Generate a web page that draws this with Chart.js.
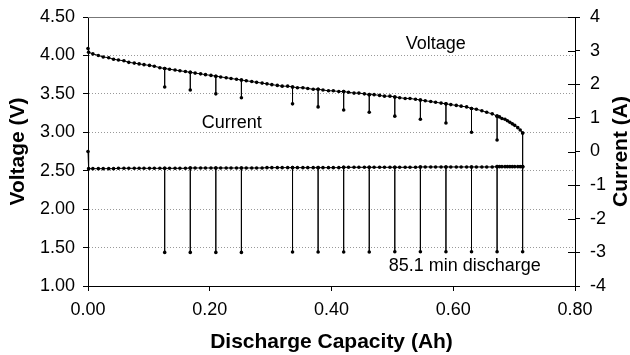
<!DOCTYPE html>
<html>
<head>
<meta charset="utf-8">
<script src="https://cdn.jsdelivr.net/npm/chart.js@4/dist/chart.umd.min.js"></script>
<style>
    html, body { margin: 0; padding: 0; background: #fff; }
    #wrap { width: 630px; height: 355px; }
</style>
</head>
<body>
<div id="wrap"><canvas id="myChart" width="630" height="355"></canvas></div>
<script>
const FONT = '"Liberation Sans", Arial, sans-serif';

// discharge capacity (Ah) of every logged point
const capacity = [
    0.000, 0.001, 0.008, 0.017, 0.025, 0.034, 0.042, 0.050, 0.059, 0.067, 0.076, 0.084, 0.092, 0.101, 0.109, 0.118,
    0.126, 0.134, 0.143, 0.151, 0.160,
    0.168, 0.176, 0.185, 0.193, 0.202,
    0.210, 0.218, 0.227, 0.235, 0.244,
    0.252, 0.260, 0.269, 0.277, 0.286,
    0.294, 0.302, 0.311, 0.319, 0.328,
    0.336, 0.344, 0.353, 0.361, 0.370,
    0.378, 0.386, 0.395, 0.403, 0.412,
    0.420, 0.428, 0.437, 0.445, 0.454,
    0.462, 0.470, 0.479, 0.487, 0.496,
    0.504, 0.512, 0.521, 0.529, 0.538,
    0.546, 0.554, 0.563, 0.571, 0.580,
    0.588, 0.596, 0.605, 0.613, 0.622,
    0.630, 0.638, 0.647, 0.655, 0.664,
    0.672, 0.676, 0.680, 0.685, 0.689, 0.693, 0.697, 0.701, 0.706, 0.710, 0.714
];

// cell voltage (V)
const voltage = [
    4.09, 4.04, 4.02, 4.00, 3.98, 3.97, 3.95, 3.94, 3.93, 3.91, 3.90, 3.89, 3.88, 3.87, 3.86, 3.84,
    3.83, 3.82, 3.81, 3.80, 3.79,
    3.78, 3.77, 3.76, 3.75, 3.74,
    3.73, 3.72, 3.71, 3.70, 3.69,
    3.68, 3.67, 3.66, 3.65, 3.64,
    3.63, 3.62, 3.61, 3.60, 3.60,
    3.59, 3.58, 3.58, 3.57, 3.56,
    3.56, 3.55, 3.54, 3.54, 3.53,
    3.53, 3.52, 3.51, 3.51, 3.50,
    3.49, 3.49, 3.48, 3.47, 3.47,
    3.46, 3.45, 3.44, 3.44, 3.43,
    3.42, 3.41, 3.40, 3.39, 3.38,
    3.37, 3.36, 3.35, 3.34, 3.33,
    3.31, 3.30, 3.28, 3.26, 3.24,
    3.21, 3.20, 3.18, 3.17, 3.15, 3.13, 3.11, 3.09, 3.06, 3.03, 2.99
];

// base discharge current (A)
const current = [
    0.00, -0.51, -0.51, -0.51, -0.51, -0.51, -0.51, -0.50, -0.50, -0.50, -0.50, -0.50, -0.50, -0.50, -0.50, -0.50,
    -0.50, -0.50, -0.50, -0.50, -0.50,
    -0.49, -0.49, -0.49, -0.49, -0.49,
    -0.49, -0.49, -0.49, -0.49, -0.49,
    -0.49, -0.49, -0.49, -0.49, -0.49,
    -0.48, -0.48, -0.48, -0.48, -0.48,
    -0.48, -0.48, -0.48, -0.48, -0.48,
    -0.48, -0.48, -0.48, -0.48, -0.48,
    -0.47, -0.47, -0.47, -0.47, -0.47,
    -0.47, -0.47, -0.47, -0.47, -0.47,
    -0.47, -0.47, -0.47, -0.47, -0.47,
    -0.46, -0.46, -0.46, -0.46, -0.46,
    -0.46, -0.46, -0.46, -0.46, -0.46,
    -0.46, -0.46, -0.46, -0.46, -0.46,
    -0.45, -0.45, -0.45, -0.45, -0.45, -0.45, -0.45, -0.45, -0.45, -0.45, -0.45
];

// 3 A pulses
const pulseCapacity = [0.126, 0.168, 0.210, 0.252, 0.336, 0.378, 0.420, 0.462, 0.504, 0.546, 0.588, 0.630, 0.672, 0.714];
const pulseVoltage = [3.59, 3.55, 3.50, 3.45, 3.37, 3.33, 3.29, 3.26, 3.21, 3.17, 3.12, 3.00, 2.90, 2.55];
const pulseCurrent = [-3.00, -3.00, -3.00, -3.00, -2.99, -2.99, -2.99, -2.99, -2.98, -2.98, -2.98, -2.98, -2.98, -2.98];

const voltageTicks = { min: 1.0, max: 4.5, step: 0.5 };
const currentTicks = { min: -4, max: 4, step: 1 };
const capacityTicks = { min: 0, max: 0.8, step: 0.2 };

// base points plus a down-and-back spike at each pulse
function buildSeries(values, pulses) {
    let pts = [];
    capacity.forEach(function (x, i) {
        pts.push({ x: x, y: values[i] });
        let k = pulseCapacity.indexOf(x);
        if (k >= 0) {
            pts.push({ x: x, y: pulses[k] });
            pts.push({ x: x, y: values[i] });
        }
    });
    return pts;
}

const seriesStyle = {
    borderColor: "#000",
    borderWidth: 1,
    backgroundColor: "#000",
    pointRadius: 1.8,
    pointBorderWidth: 0,
    pointBackgroundColor: "#000",
    tension: 0,
    clip: 6
};

// labels written inside the plot, top border, inner right ticks, right title
const extras = {
    id: "extras",
    afterDraw(chart) {
        const c = chart.ctx;
        const a = chart.chartArea;
        const sx = chart.scales.x, sy = chart.scales.y, sy1 = chart.scales.y1;
        c.save();
        c.strokeStyle = "#777";
        c.lineWidth = 1;
        c.beginPath();
        c.moveTo(a.left, Math.round(a.top) + 0.5);
        c.lineTo(a.right, Math.round(a.top) + 0.5);
        c.stroke();

        c.strokeStyle = "#000";
        c.beginPath();
        for (let v = currentTicks.min; v <= currentTicks.max; v += currentTicks.step) {
            let y = Math.round(sy1.getPixelForValue(v)) + 0.5;
            c.moveTo(a.right - 7, y);
            c.lineTo(a.right, y);
        }
        c.stroke();

        c.fillStyle = "#000";
        c.font = "18px " + FONT;
        c.textAlign = "left";
        c.textBaseline = "middle";
        c.fillText("Voltage", sx.getPixelForValue(0.522), sy.getPixelForValue(4.15));
        c.fillText("Current", sx.getPixelForValue(0.187), sy.getPixelForValue(3.12));
        c.fillText("85.1 min discharge", sx.getPixelForValue(0.494), sy.getPixelForValue(1.26));

        c.font = "bold 21px " + FONT;
        c.textAlign = "center";
        c.translate(621, (a.top + a.bottom) / 2);
        c.rotate(-Math.PI / 2);
        c.fillText("Current (A)", 0, 0);
        c.restore();
    }
};

const tickFont = { family: FONT, size: 18 };
const titleFont = { family: FONT, size: 21, weight: "bold" };

new Chart(document.getElementById("myChart"), {
    type: "line",
    data: {
        datasets: [
            Object.assign({ label: "Voltage", data: buildSeries(voltage, pulseVoltage), yAxisID: "y" }, seriesStyle),
            Object.assign({ label: "Current", data: buildSeries(current, pulseCurrent), yAxisID: "y1" }, seriesStyle)
        ]
    },
    options: {
        responsive: false,
        animation: false,
        layout: { padding: { top: 17, left: 0, right: 0, bottom: 0 } },
        plugins: {
            legend: { display: false },
            tooltip: { enabled: false }
        },
        scales: {
            x: {
                type: "linear",
                min: capacityTicks.min,
                max: capacityTicks.max,
                ticks: {
                    stepSize: capacityTicks.step,
                    color: "#000",
                    font: tickFont,
                    padding: 8,
                    maxRotation: 0,
                    callback: v => v.toFixed(2)
                },
                grid: { drawOnChartArea: false, tickLength: 5, tickColor: "#000" },
                border: { color: "#000", width: 1 },
                title: {
                    display: true,
                    text: "Discharge Capacity (Ah)",
                    color: "#000",
                    font: titleFont,
                    padding: { top: 0, bottom: 0 }
                },
                afterFit(s) { s.height = 69; s.paddingLeft = 0; s.paddingRight = 0; }
            },
            y: {
                position: "left",
                min: voltageTicks.min,
                max: voltageTicks.max,
                ticks: {
                    stepSize: voltageTicks.step,
                    color: "#000",
                    font: tickFont,
                    padding: 8,
                    callback: v => v.toFixed(2)
                },
                grid: { color: "#999", tickLength: 5, tickColor: "#000", lineWidth: 1 },
                border: { color: "#000", width: 1, dash: [1, 2] },
                title: {
                    display: true,
                    text: "Voltage (V)",
                    color: "#000",
                    font: titleFont,
                    padding: { top: 6, bottom: 0 }
                },
                afterFit(s) { s.width = 88; s.paddingTop = 0; s.paddingBottom = 0; }
            },
            y1: {
                position: "right",
                min: currentTicks.min,
                max: currentTicks.max,
                ticks: {
                    stepSize: currentTicks.step,
                    color: "#000",
                    font: tickFont,
                    padding: 10
                },
                grid: { drawOnChartArea: false, tickLength: 5, tickColor: "#000" },
                border: { color: "#000", width: 1 },
                afterFit(s) { s.width = 55; s.paddingTop = 0; s.paddingBottom = 0; }
            }
        }
    },
    plugins: [extras]
});
</script>
</body>
</html>
